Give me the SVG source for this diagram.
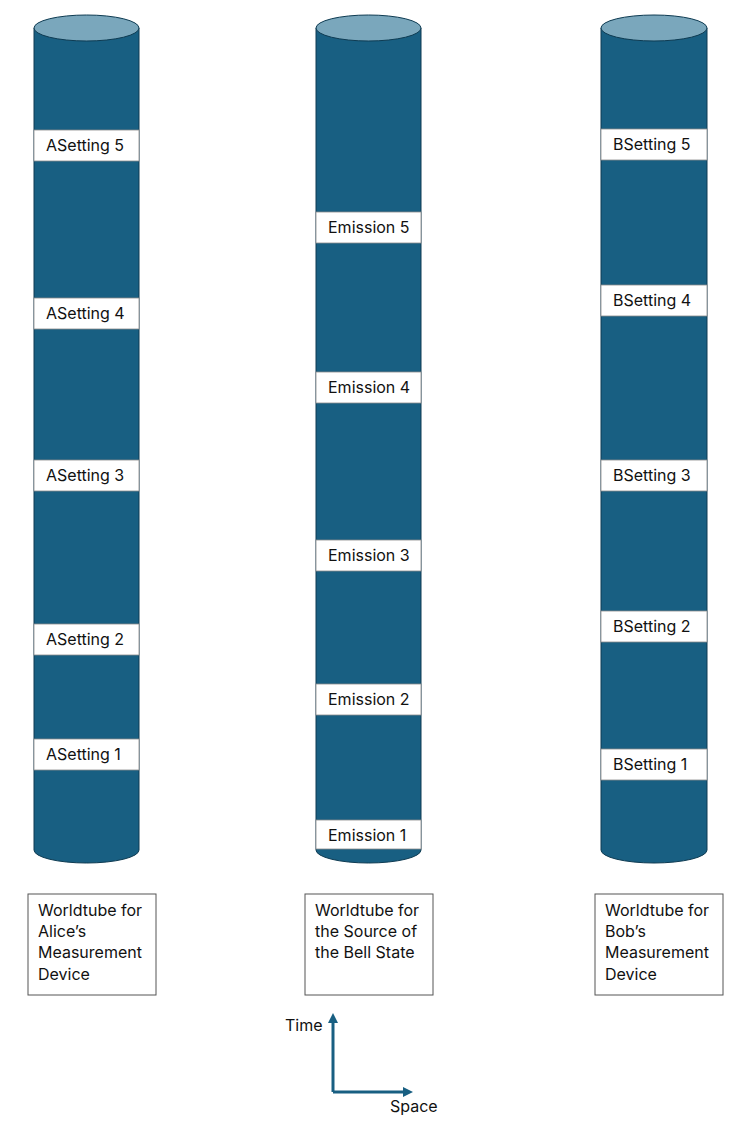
<svg xmlns="http://www.w3.org/2000/svg" width="754" height="1125" viewBox="0 0 754 1125">
<style>
.body{fill:#185F82;stroke:#0E3B52;stroke-width:1}
.top{fill:#7AA7BC;stroke:#0E3B52;stroke-width:1}
.lbl{fill:#ffffff;stroke:#8a8a8a;stroke-width:0.8}
.t{font-family:Inter,"Liberation Sans",Arial,sans-serif;font-size:16px;fill:#111}
.cap{fill:#ffffff;stroke:#555;stroke-width:1}
.axis{stroke:#185F82;stroke-width:3;fill:none}
</style>
<defs>
<marker id="ah" markerWidth="10" markerHeight="10" refX="5" refY="5" orient="auto" markerUnits="userSpaceOnUse">
<path d="M0,0 L10,5 L0,10 z" fill="#185F82"/>
</marker>
</defs>
<g id="tube-alice">
<path class="body" d="M34,28 L34,850 A52.5,13 0 0 0 139,850 L139,28 z"/>
<ellipse class="top" cx="86.5" cy="28" rx="52.5" ry="13"/>
<g id="asetting5"><rect class="lbl" x="34" y="130" width="105" height="31"/><text class="t" x="46" y="151">ASetting 5</text></g>
<g id="asetting4"><rect class="lbl" x="34" y="298" width="105" height="31"/><text class="t" x="46" y="319">ASetting 4</text></g>
<g id="asetting3"><rect class="lbl" x="34" y="460" width="105" height="31"/><text class="t" x="46" y="481">ASetting 3</text></g>
<g id="asetting2"><rect class="lbl" x="34" y="624" width="105" height="31"/><text class="t" x="46" y="645">ASetting 2</text></g>
<g id="asetting1"><rect class="lbl" x="34" y="739" width="105" height="31"/><text class="t" x="46" y="760">ASetting 1</text></g>
</g>
<g id="tube-source">
<path class="body" d="M316,28 L316,850 A52.5,13 0 0 0 421,850 L421,28 z"/>
<ellipse class="top" cx="368.5" cy="28" rx="52.5" ry="13"/>
<g id="emission5"><rect class="lbl" x="316" y="212" width="105" height="31"/><text class="t" x="328" y="233">Emission 5</text></g>
<g id="emission4"><rect class="lbl" x="316" y="372" width="105" height="31"/><text class="t" x="328" y="393">Emission 4</text></g>
<g id="emission3"><rect class="lbl" x="316" y="540" width="105" height="31"/><text class="t" x="328" y="561">Emission 3</text></g>
<g id="emission2"><rect class="lbl" x="316" y="684" width="105" height="31"/><text class="t" x="328" y="705">Emission 2</text></g>
<g id="emission1"><rect class="lbl" x="316" y="820" width="105" height="29"/><text class="t" x="328" y="841">Emission 1</text></g>
</g>
<g id="tube-bob">
<path class="body" d="M601,28 L601,850 A53,13 0 0 0 707,850 L707,28 z"/>
<ellipse class="top" cx="654" cy="28" rx="53" ry="13"/>
<g id="bsetting5"><rect class="lbl" x="601" y="129" width="106" height="31"/><text class="t" x="613" y="150">BSetting 5</text></g>
<g id="bsetting4"><rect class="lbl" x="601" y="285" width="106" height="31"/><text class="t" x="613" y="306">BSetting 4</text></g>
<g id="bsetting3"><rect class="lbl" x="601" y="460" width="106" height="31"/><text class="t" x="613" y="481">BSetting 3</text></g>
<g id="bsetting2"><rect class="lbl" x="601" y="611" width="106" height="31"/><text class="t" x="613" y="632">BSetting 2</text></g>
<g id="bsetting1"><rect class="lbl" x="601" y="749" width="106" height="31"/><text class="t" x="613" y="770">BSetting 1</text></g>
</g>
<g id="caption-alice">
<rect class="cap" x="28" y="894" width="128" height="101"/>
<text class="t" x="38" y="916">Worldtube for</text>
<text class="t" x="38" y="937">Alice’s</text>
<text class="t" x="38" y="958">Measurement</text>
<text class="t" x="38" y="980">Device</text>
</g>
<g id="caption-source">
<rect class="cap" x="305" y="894" width="128" height="101"/>
<text class="t" x="315" y="916">Worldtube for</text>
<text class="t" x="315" y="937">the Source of</text>
<text class="t" x="315" y="958">the Bell State</text>
</g>
<g id="caption-bob">
<rect class="cap" x="595" y="894" width="128" height="101"/>
<text class="t" x="605" y="916">Worldtube for</text>
<text class="t" x="605" y="937">Bob’s</text>
<text class="t" x="605" y="958">Measurement</text>
<text class="t" x="605" y="980">Device</text>
</g>
<g id="connectors">
<path class="axis" d="M333,1092 L333,1018" marker-end="url(#ah)"/>
<path class="axis" d="M333,1092 L408,1092" marker-end="url(#ah)"/>
</g>
<g id="axis-labels">
<text class="t" x="285" y="1031">Time</text>
<text class="t" x="390" y="1112">Space</text>
</g>
</svg>
